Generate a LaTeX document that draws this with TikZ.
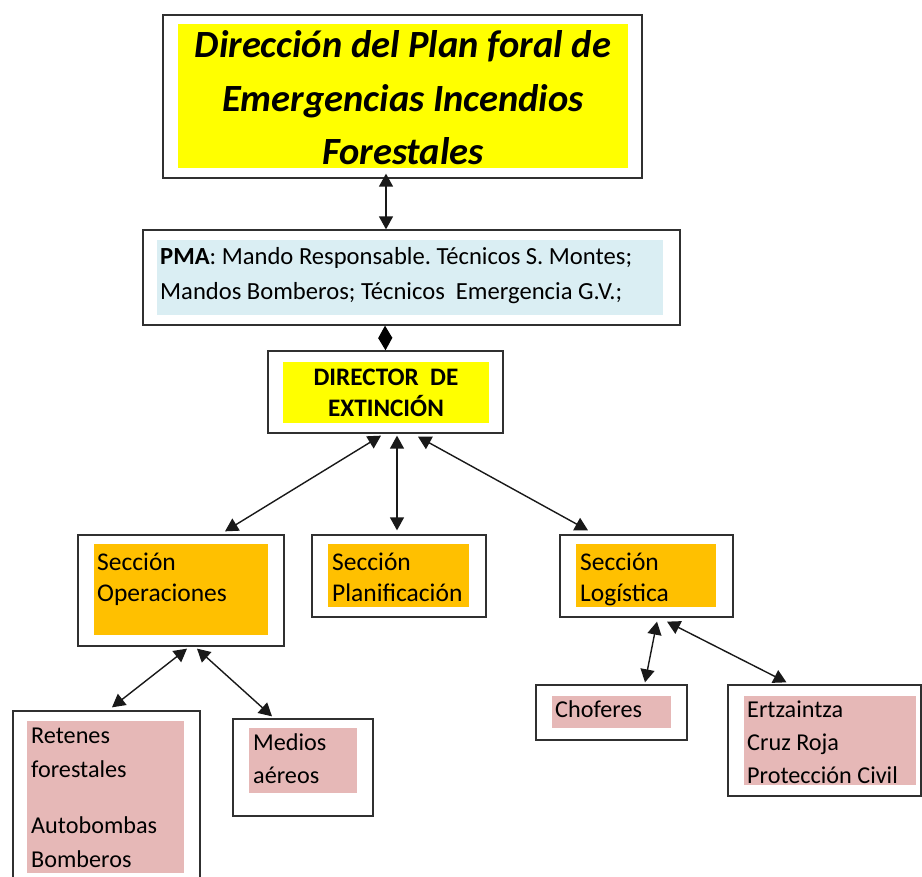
\documentclass[tikz,border=0pt]{standalone}
\usepackage{fontspec}
\setmainfont{Carlito}
\usetikzlibrary{arrows.meta,calc}
\definecolor{ylw}{HTML}{FFFF00}
\definecolor{lblue}{HTML}{DAEEF3}
\definecolor{orng}{HTML}{FFC000}
\definecolor{pnk}{HTML}{E6B8B7}
\definecolor{edge}{HTML}{303030}
\tikzset{
  obox/.style={draw=edge, line width=1.3pt, fill=white, inner sep=0pt},
  fbox/.style={inner sep=0pt},
  txt/.style={anchor=base west, inner sep=0pt, align=left, text=black},
  dbl/.style={{Triangle[length=13pt,width=14pt]}-{Triangle[length=13pt,width=14pt]}, line width=1.4pt, draw=black!90},
}
\newcommand\mybx[6]{\node[#6, minimum width={(#4)-(#2)}, minimum height={(#5)-(#3)}] (#1) at ({((#2)+(#4))/2},{((#3)+(#5))/2}) {};}
\frenchspacing
\begin{document}
\frenchspacing
\begin{tikzpicture}[x=1pt,y=-1pt]
\clip (0,0) rectangle (922,877);
\fill[white] (0,0) rectangle (922,877);
% boxes
\mybx{top}{163}{15}{642}{178}{obox}
\mybx{topf}{178}{24}{628}{168}{fbox,fill=ylw}
\mybx{pma}{143}{230}{680}{325}{obox}
\mybx{pmaf}{157}{240}{663}{315}{fbox,fill=lblue}
\mybx{dir}{268}{351}{503}{433}{obox}
\mybx{dirf}{283}{362}{489}{423}{fbox,fill=ylw}
\mybx{ops}{78}{535}{284}{646}{obox}
\mybx{opsf}{94}{544}{268}{635}{fbox,fill=orng}
\mybx{plan}{312}{535}{486}{617}{obox}
\mybx{planf}{328}{544}{469}{607}{fbox,fill=orng}
\mybx{log}{560}{535}{733}{617}{obox}
\mybx{logf}{576}{544}{716}{607}{fbox,fill=orng}
\mybx{ret}{13}{711}{200}{895}{obox}
\mybx{retf}{27}{721}{184}{873}{fbox,fill=pnk}
\mybx{med}{233}{719}{373}{816}{obox}
\mybx{medf}{249}{728}{357}{793}{fbox,fill=pnk}
\mybx{cho}{536}{685}{687}{740}{obox}
\mybx{chof}{552}{696}{671}{728}{fbox,fill=pnk}
\mybx{ert}{728}{685}{921}{796}{obox}
\mybx{ertf}{744}{696}{916}{785}{fbox,fill=pnk}
% texts (anchor = baseline of the last line)
\node[txt, anchor=base, align=center, font=\fontsize{38.5}{53.5}\selectfont\bfseries\itshape] (topt) at (403,165)
  {Dirección del Plan foral de\\Emergencias Incendios\\Forestales};
\node[txt, font=\fontsize{24.6}{35}\selectfont] (pmat) at (160,300)
  {\textbf{PMA}: Mando Responsable. Técnicos S. Montes;\\Mandos Bomberos; Técnicos\ \ Emergencia G.V.;};
\node[txt, anchor=base, align=center, font=\fontsize{25.2}{31}\selectfont\bfseries] (dirt) at (386,417)
  {DIRECTOR\ \ DE\\EXTINCIÓN};
\node[txt, font=\fontsize{25.5}{31}\selectfont] (opst) at (97,601) {Sección\\Operaciones};
\node[txt, font=\fontsize{25.5}{31}\selectfont] (plant) at (332,601) {Sección\\Planificación};
\node[txt, font=\fontsize{25.5}{31}\selectfont] (logt) at (580,601) {Sección\\Logística};
\node[txt, font=\fontsize{24.2}{34}\selectfont] (rett) at (31,867) {Retenes\\forestales\\[22pt]Autobombas\\Bomberos};
\node[txt, font=\fontsize{24.2}{33}\selectfont] (medt) at (253,783) {Medios\\aéreos};
\node[txt, font=\fontsize{24.2}{33}\selectfont] (chot) at (555,717) {Choferes};
\node[txt, font=\fontsize{24.2}{33}\selectfont] (ertt) at (747,783) {Ertzaintza\\Cruz Roja\\Protección Civil};
% connectors
\draw[dbl] ([xshift=-16.5pt,yshift=5pt]top.south) -- ([xshift=-25.5pt]pma.north);
\draw[{Triangle[length=12.5pt,width=14pt]}-{Triangle[length=12.5pt,width=14pt]}, line width=1.2pt] ([xshift=-26.5pt]pma.south) -- (dir.north);
\draw[dbl] ([xshift=-4.5pt,yshift=-2pt]dir.south) -- ([xshift=44pt,yshift=3pt]ops.north);
\draw[dbl] ([xshift=11.5pt,yshift=-2pt]dir.south) -- ([xshift=-2pt,yshift=4pt]plan.north);
\draw[dbl] ([xshift=32.5pt,yshift=-3pt]dir.south) -- ([xshift=-58.5pt,yshift=4pt]log.north);
\draw[dbl] ([xshift=6pt,yshift=-2pt]ops.south) -- ([xshift=5.5pt,yshift=3pt]ret.north);
\draw[dbl] ([xshift=16pt,yshift=-2pt]ops.south) -- ([xshift=-31pt,yshift=2pt]med.north);
\draw[dbl] ([xshift=10.5pt,yshift=-4pt]log.south) -- ([xshift=33.5pt,yshift=2pt]cho.north);
\draw[dbl] ([xshift=20.5pt,yshift=-4pt]log.south) -- ([xshift=-38pt,yshift=2pt]ert.north);
\end{tikzpicture}
\end{document}
